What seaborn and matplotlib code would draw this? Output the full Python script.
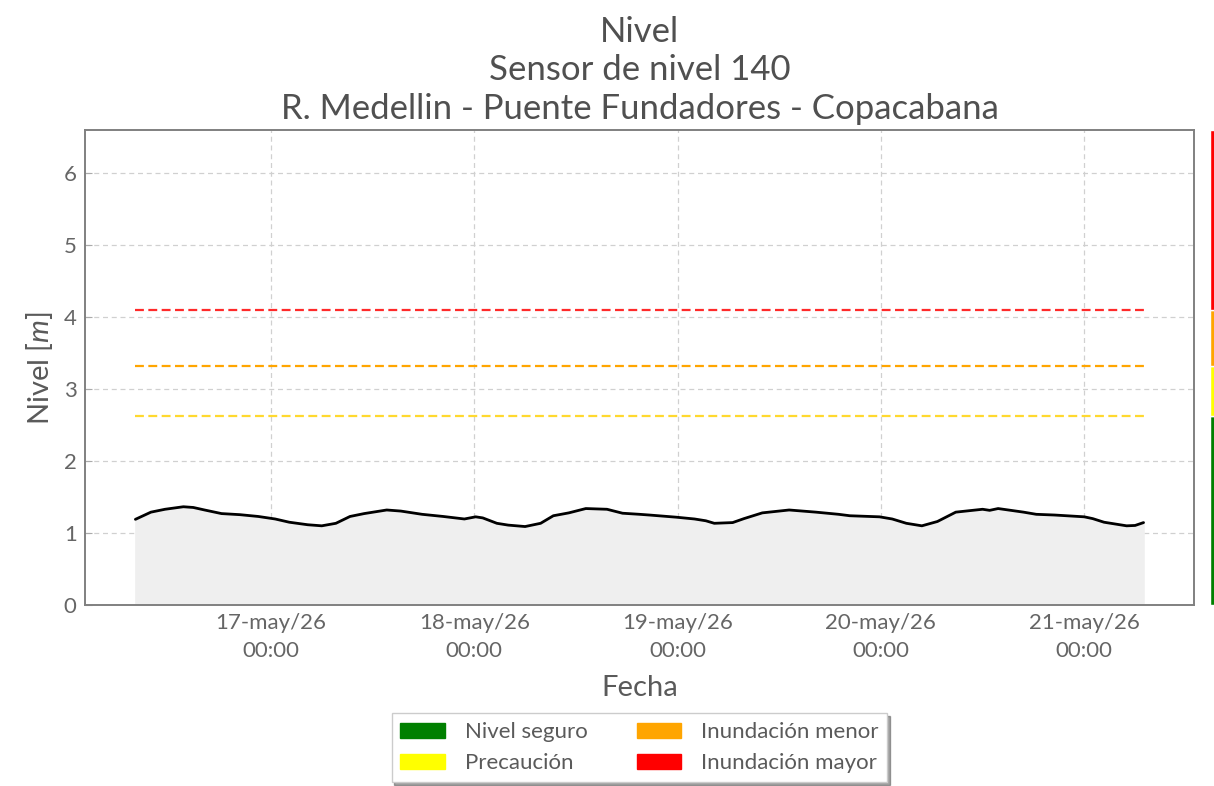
import pandas as pd
import matplotlib
matplotlib.use("Agg")
import matplotlib.pyplot as plt
import matplotlib.dates as mdates
from matplotlib.patches import Patch
import seaborn as sns

# serie de nivel
fechas = [
    "2026-05-16 08:00", "2026-05-16 09:50", "2026-05-16 11:30", "2026-05-16 13:40",
    "2026-05-16 14:50", "2026-05-16 16:10", "2026-05-16 18:10", "2026-05-16 20:20",
    "2026-05-16 22:30", "2026-05-17 00:30", "2026-05-17 02:10", "2026-05-17 04:20",
    "2026-05-17 06:00", "2026-05-17 07:40", "2026-05-17 09:20", "2026-05-17 11:00",
    "2026-05-17 13:40", "2026-05-17 15:20", "2026-05-17 17:50", "2026-05-17 20:20",
    "2026-05-17 22:50", "2026-05-18 00:10", "2026-05-18 01:00", "2026-05-18 02:40",
    "2026-05-18 04:00", "2026-05-18 06:00", "2026-05-18 07:50", "2026-05-18 09:20",
    "2026-05-18 11:10", "2026-05-18 13:10", "2026-05-18 15:40", "2026-05-18 17:30",
    "2026-05-18 19:30", "2026-05-18 20:40", "2026-05-18 23:50", "2026-05-19 02:00",
    "2026-05-19 03:20", "2026-05-19 04:20", "2026-05-19 06:30", "2026-05-19 07:50",
    "2026-05-19 10:00", "2026-05-19 13:10", "2026-05-19 16:20", "2026-05-19 19:00",
    "2026-05-19 20:20", "2026-05-19 23:50", "2026-05-20 01:20", "2026-05-20 03:00",
    "2026-05-20 04:50", "2026-05-20 06:40", "2026-05-20 08:50", "2026-05-20 12:00",
    "2026-05-20 12:50", "2026-05-20 13:50", "2026-05-20 16:50", "2026-05-20 18:20",
    "2026-05-20 20:30", "2026-05-21 00:00", "2026-05-21 01:00", "2026-05-21 02:20",
    "2026-05-21 05:00", "2026-05-21 06:00", "2026-05-21 07:00",
]
nivel = [
    1.19, 1.29, 1.33, 1.365, 1.355, 1.32, 1.27, 1.255,
    1.23, 1.195, 1.15, 1.115, 1.10, 1.135, 1.23, 1.27,
    1.32, 1.305, 1.26, 1.23, 1.195, 1.225, 1.21, 1.135,
    1.11, 1.09, 1.135, 1.24, 1.28, 1.34, 1.33, 1.275,
    1.26, 1.25, 1.22, 1.195, 1.17, 1.135, 1.145, 1.20,
    1.28, 1.32, 1.29, 1.26, 1.24, 1.225, 1.195, 1.135,
    1.10, 1.16, 1.29, 1.33, 1.315, 1.34, 1.29, 1.26,
    1.25, 1.225, 1.20, 1.15, 1.10, 1.105, 1.145,
]

# umbrales
umbral_nombres = ["Precaución", "Inundación menor", "Inundación mayor"]
umbral_valores = [2.63, 3.32, 4.10]
umbral_colores = ["#ffd92f", "#ffa500", "#ff2a2a"]

leyenda_nombres = ["Nivel seguro", "Precaución", "Inundación menor", "Inundación mayor"]
leyenda_colores = ["#008000", "#ffff00", "#ffa500", "#ff0000"]

meses = ["ene", "feb", "mar", "abr", "may", "jun", "jul", "ago", "sep", "oct", "nov", "dic"]

df = pd.DataFrame({"fecha": pd.to_datetime(fechas), "nivel": nivel})

sns.set_style("whitegrid")
plt.rcParams['font.family'] = ['Lato', 'DejaVu Sans']
plt.rcParams['mathtext.fontset'] = 'custom'
plt.rcParams['mathtext.it'] = 'Lato:italic'
gris = "#5a5a5a"

fig = plt.figure(figsize=(12.14, 7.86), dpi=100)
ax = fig.add_axes([0.070, 0.2303, 0.9135, 0.6043])

ax.fill_between(df["fecha"], 0, df["nivel"], color="#efefef", zorder=1)
sns.lineplot(data=df, x="fecha", y="nivel", ax=ax, color="black", linewidth=2, zorder=3)

for val, col in zip(umbral_valores, umbral_colores):
    ax.hlines(val, df["fecha"].iloc[0], df["fecha"].iloc[-1], colors=col,
              linestyles=(0, (4, 2)), linewidth=1.6, zorder=2)

ax.set_ylim(0, 6.6)
ax.set_yticks([0, 1, 2, 3, 4, 5, 6])
ax.xaxis.set_major_locator(mdates.DayLocator())


def fmt_fecha(x, pos):
    d = mdates.num2date(x)
    return f"{d.day}-{meses[d.month - 1]}/{d.strftime('%y')}\n{d.strftime('%H:%M')}"


ax.xaxis.set_major_formatter(plt.FuncFormatter(fmt_fecha))

ax.grid(True, linestyle=(0, (4, 3)), color="#d0d0d0", linewidth=0.9)
for s in ax.spines.values():
    s.set_color("#808080")
    s.set_linewidth(1.4)
ax.tick_params(axis="both", direction="in", length=5, color="#aaaaaa",
               labelsize=16, labelcolor="#666666", bottom=True, left=True, pad=6)
for lbl in ax.get_xticklabels():
    lbl.set_linespacing(1.5)

ax.set_xlabel("Fecha", fontsize=21, color=gris, labelpad=10)
ax.set_ylabel("Nivel [$m$]", fontsize=21, color=gris, labelpad=6)
ax.set_title("Nivel\nSensor de nivel 140\nR. Medellin - Puente Fundadores - Copacabana",
             fontsize=25, color="#505050", pad=8, linespacing=1.25)

handles = [Patch(facecolor=c, edgecolor=c) for c in leyenda_colores]
leg = ax.legend(handles, leyenda_nombres, ncol=2, loc="upper center",
                bbox_to_anchor=(0.5, -0.205), fontsize=16, frameon=True,
                shadow=True, fancybox=False, handlelength=2.0, handleheight=0.7,
                columnspacing=2.2, handletextpad=0.9, labelspacing=0.5, borderpad=0.4)
leg.get_frame().set_edgecolor("#cccccc")
for t in leg.get_texts():
    t.set_color(gris)

# barra de colores a la derecha
bar = fig.add_axes([1210 / 1214, 0.2303, 0.006, 0.6043])
limites = [0] + umbral_valores + [6.6]
for i, c in enumerate(leyenda_colores):
    bar.bar(0, limites[i + 1] - limites[i], bottom=limites[i], width=1, color=c)
bar.set_ylim(0, 6.6)
bar.set_xlim(-0.5, 0.5)
bar.axis("off")

fig.savefig("out.png", dpi=100)
